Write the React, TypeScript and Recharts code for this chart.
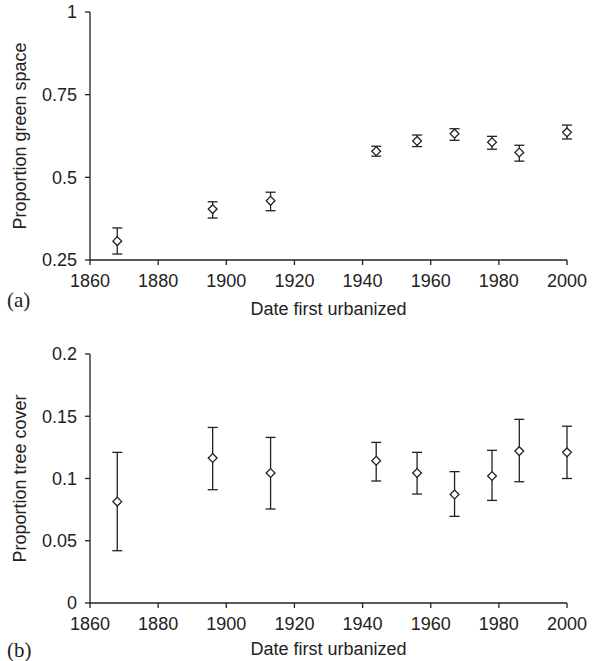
import { ScatterChart, Scatter, XAxis, YAxis, ErrorBar, Label } from 'recharts';

const years = [1868, 1896, 1913, 1944, 1956, 1967, 1978, 1986, 2000];

const greenMean = [0.307, 0.404, 0.429, 0.579, 0.61, 0.632, 0.606, 0.575, 0.636];
const greenLow = [0.268, 0.377, 0.399, 0.564, 0.593, 0.612, 0.585, 0.549, 0.616];
const greenHigh = [0.347, 0.426, 0.455, 0.594, 0.628, 0.647, 0.624, 0.597, 0.658];

const treeMean = [0.0814, 0.1165, 0.1044, 0.1143, 0.1044, 0.0872, 0.102, 0.122, 0.121];
const treeLow = [0.042, 0.091, 0.0755, 0.098, 0.0875, 0.0696, 0.0824, 0.0974, 0.1];
const treeHigh = [0.121, 0.141, 0.133, 0.129, 0.121, 0.1055, 0.1226, 0.1475, 0.142];

const xTicks = [1860, 1880, 1900, 1920, 1940, 1960, 1980, 2000];
const greenTicks = [0.25, 0.5, 0.75, 1];
const treeTicks = [0, 0.05, 0.1, 0.15, 0.2];

const ink = '#222';
const font = '"Liberation Sans", Arial, sans-serif';

const build = (mean: number[], low: number[], high: number[]) =>
  years.map((year, i) => ({
    year,
    value: mean[i],
    err: [mean[i] - low[i], high[i] - mean[i]],
  }));

const greenData = build(greenMean, greenLow, greenHigh);
const treeData = build(treeMean, treeLow, treeHigh);

const Diamond = (props: any) => {
  const { cx, cy } = props;
  if (cx == null || cy == null) return null;
  const r = 4.4;
  return (
    <path
      d={`M${cx},${cy - r}L${cx + r},${cy}L${cx},${cy + r}L${cx - r},${cy}Z`}
      fill="#fff"
      stroke={ink}
      strokeWidth={1.3}
    />
  );
};

const YTitle = ({ viewBox, value }: any) => {
  const y = viewBox.y + viewBox.height / 2;
  return (
    <text
      x={20}
      y={y}
      transform={`rotate(-90, 20, ${y})`}
      textAnchor="middle"
      dominantBaseline="central"
      fill={ink}
      fontSize={18}
      fontFamily={font}
    >
      {value}
    </text>
  );
};

function Panel({ data, ticks, domain, title, top, height, xHeight, bottom, labelOffset }: any) {
  return (
    <ScatterChart
      width={594}
      height={height}
      margin={{ top, right: 27, bottom, left: 0 }}
      style={{ fontFamily: font }}
    >
      <XAxis
        type="number"
        dataKey="year"
        domain={[1860, 2000]}
        ticks={xTicks}
        height={xHeight}
        tickSize={5}
        tickMargin={9}
        stroke={ink}
        strokeWidth={1.3}
        tick={{ fill: ink, fontSize: 18 }}
      >
        <Label
          value="Date first urbanized"
          position="insideBottom"
          offset={labelOffset}
          fill={ink}
          fontSize={18}
        />
      </XAxis>
      <YAxis
        type="number"
        dataKey="value"
        domain={domain}
        ticks={ticks}
        width={90}
        tickSize={5}
        tickMargin={8}
        stroke={ink}
        strokeWidth={1.3}
        tick={{ fill: ink, fontSize: 18 }}
      >
        <Label value={title} content={<YTitle value={title} />} />
      </YAxis>
      <Scatter data={data} shape={<Diamond />} isAnimationActive={false}>
        <ErrorBar dataKey="err" direction="y" width={5} stroke={ink} strokeWidth={1.3} />
      </Scatter>
    </ScatterChart>
  );
}

const panelTag = {
  position: 'absolute' as const,
  left: 7,
  fontFamily: '"Liberation Serif", "Times New Roman", serif',
  fontSize: 21,
  lineHeight: '20px',
  color: ink,
};

export default function App() {
  return (
    <div style={{ position: 'absolute', left: 0, top: 0, width: 594, height: 661, background: '#fff', overflow: 'hidden' }}>
      <div style={{ position: 'absolute', left: 0, top: 0 }}>
        <Panel
          data={greenData}
          ticks={greenTicks}
          domain={[0.25, 1]}
          title="Proportion green space"
          top={12}
          height={330}
          xHeight={55}
          bottom={15}
          labelOffset={0}
        />
      </div>
      <div style={{ position: 'absolute', left: 0, top: 330 }}>
        <Panel
          data={treeData}
          ticks={treeTicks}
          domain={[0, 0.2]}
          title="Proportion tree cover"
          top={24}
          height={331}
          xHeight={55}
          bottom={3}
          labelOffset={3}
        />
      </div>
      <div style={{ ...panelTag, top: 290 }}>(a)</div>
      <div style={{ ...panelTag, top: 640 }}>(b)</div>
    </div>
  );
}
